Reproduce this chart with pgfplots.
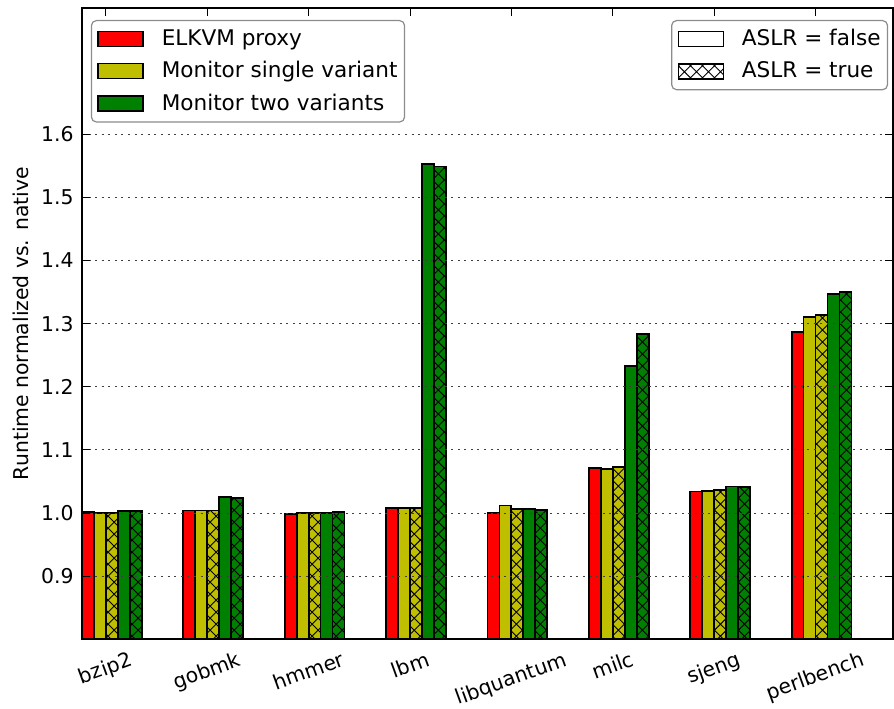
\documentclass[border=0pt]{standalone}
\usepackage{fontspec}
\setmainfont{DejaVu Sans}
\usepackage{graphicx}
\usepackage{pgfplots}
\usepackage{pgfplotstable}
\pgfplotsset{compat=1.18}
\usetikzlibrary{patterns.meta,calc}
\definecolor{cred}{rgb}{1,0,0}
\definecolor{cyel}{rgb}{0.75,0.75,0}
\definecolor{cgrn}{rgb}{0,0.5,0}

\pgfplotstableread{
x elkvm single singleA two twoA
0 1.001 1.0005 1.000 1.003 1.0035
1 1.004 1.004 1.004 1.025 1.024
2 0.999 1.000 1.000 1.000 1.001
3 1.008 1.008 1.008 1.553 1.549
4 1.000 1.012 1.007 1.007 1.005
5 1.071 1.0695 1.073 1.2335 1.283
6 1.034 1.035 1.036 1.042 1.041
7 1.287 1.311 1.314 1.347 1.350
}\data

\tikzset{hatchx/.style={postaction={pattern={Hatch[angle=45,distance=4.25pt,line width=0.45pt]},pattern color=black}}}

\pgfplotsset{
  commonax/.style={
    width=406pt, height=316pt, scale only axis,
    xmin=0, xmax=8, ymin=0.8, ymax=1.8,
  },
  barst/.style={ybar, bar width=0.118, bar shift=0pt, draw=black, line width=0.9pt, forget plot},
  legst/.style={
    legend image code/.code={\draw[##1, sharp corners, line width=0.7pt] (2pt,-3.75pt) rectangle (24.5pt,3.75pt);},
    legend cell align=left,
    legend style={draw=black!45, rounded corners=2.5pt, line width=0.6pt,
      font=\fontsize{10.8}{12}\selectfont, fill=white,
      inner xsep=3pt, inner ysep=3.4pt, row sep=4.6pt,
      nodes={inner xsep=0.5pt, inner ysep=1pt},
      /tikz/every odd column/.append style={column sep=8.5pt}},
  },
}

\begin{document}
\begin{tikzpicture}
\begin{axis}[commonax, name=main,
  axis on top,
  axis line style={line width=1pt},
  tick align=inside, major tick length=4pt,
  tick style={black, line width=0.5pt},
  xtick={0.236,1.236,2.236,3.236,4.236,5.236,6.236,7.236},
  xticklabels={{\rotatebox{20}{bzip2}},{\rotatebox{20}{gobmk}},{\rotatebox{20}{hmmer}},{\rotatebox{20}{lbm}},{\rotatebox{20}{libquantum}},{\rotatebox{20}{milc}},{\rotatebox{20}{sjeng}},{\rotatebox{20}{perlbench}}},
  xticklabel style={anchor=north, inner sep=0pt, yshift=-5.5pt},
  ytick={0.9,1.0,1.1,1.2,1.3,1.4,1.5,1.6},
  yticklabel style={/pgf/number format/.cd, fixed, fixed zerofill, precision=1, /tikz/.cd, anchor=east, inner sep=0pt, xshift=-4pt},
  /pgf/number format/assume math mode=true,
  tick label style={font=\fontsize{10.2}{12}\selectfont},
  ymajorgrids,
  grid style={black!75, line width=0.5pt, dash pattern=on 1pt off 2.3pt},
  ylabel={Runtime normalized vs. native},
  ylabel style={font=\fontsize{10.2}{12}\selectfont, at={($(axis description cs:0,0.5)+(-30.5pt,0)$)}, anchor=center},
  legst,
  legend style={at={(0.011,0.981)}, anchor=north west},
]
\addplot[barst, fill=cred] table[x expr=\thisrow{x}+0.059, y=elkvm] {\data};
\addplot[barst, fill=cyel] table[x expr=\thisrow{x}+0.177, y=single] {\data};
\addplot[barst, fill=cyel, hatchx] table[x expr=\thisrow{x}+0.295, y=singleA] {\data};
\addplot[barst, fill=cgrn] table[x expr=\thisrow{x}+0.413, y=two] {\data};
\addplot[barst, fill=cgrn, hatchx] table[x expr=\thisrow{x}+0.531, y=twoA] {\data};
\addlegendimage{fill=cred}
\addlegendimage{fill=cyel}
\addlegendimage{fill=cgrn}
\legend{ELKVM proxy, Monitor single variant, Monitor two variants}
\end{axis}
\begin{axis}[commonax, hide axis, legst,
  legend style={at={(0.994,0.981)}, anchor=north east}]
\addlegendimage{fill=white}
\addlegendimage{fill=white, hatchx}
\legend{ASLR = false, ASLR = true}
\end{axis}
\pgfresetboundingbox
\path ($(main.south west)+(-41pt,-34.5pt)$) rectangle ($(main.north east)+(0.5pt,4pt)$);
\end{tikzpicture}
\end{document}
